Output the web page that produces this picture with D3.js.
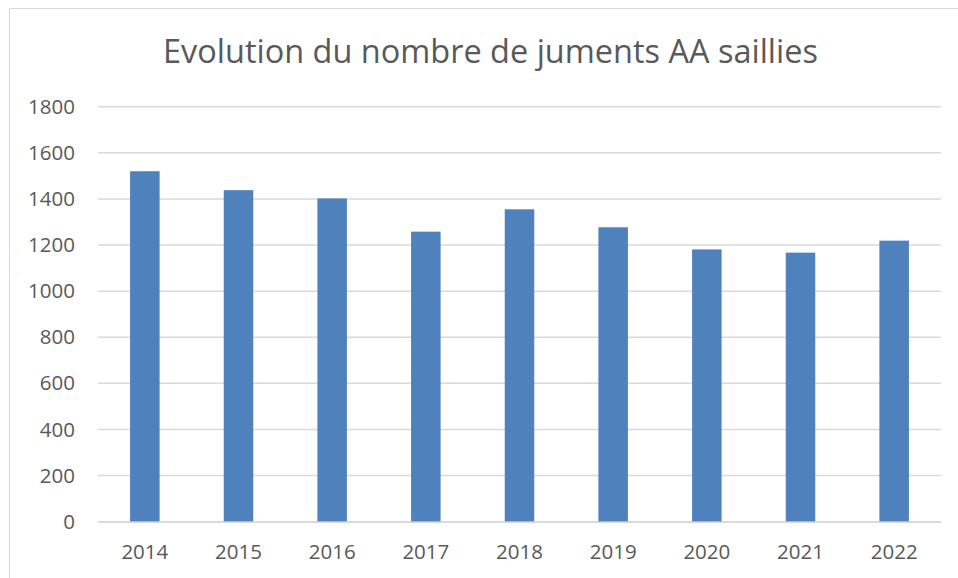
<!DOCTYPE html>
<html>
<head>
<meta charset="utf-8">
<script src="https://cdn.jsdelivr.net/npm/d3@7"></script>
<style>
  html, body { margin: 0; padding: 0; background: #fff; }
  svg { display: block; }
</style>
</head>
<body>
<svg id="chart" width="958" height="578"></svg>
<script>
const title = "Evolution du nombre de juments AA saillies";
const years = ["2014", "2015", "2016", "2017", "2018", "2019", "2020", "2021", "2022"];
const values = [1520, 1438, 1402, 1258, 1355, 1277, 1181, 1167, 1219];
const yTicks = [0, 200, 400, 600, 800, 1000, 1200, 1400, 1600, 1800];

const svg = d3.select("#chart");
const W = 958, H = 578;
const margin = { left: 98, right: 17, top: 106.7, bottom: 56.3 };
const plotW = W - margin.left - margin.right;
const plotH = H - margin.top - margin.bottom;

// chart frame
svg.append("rect")
  .attr("x", 9.5).attr("y", 8.5)
  .attr("width", 960).attr("height", 580)
  .attr("fill", "#fff").attr("stroke", "#d9d9d9").attr("stroke-width", 1);

const g = svg.append("g").attr("transform", `translate(${margin.left},${margin.top})`);

const x = d3.scaleBand().domain(years).range([0, plotW]).padding(0);
const y = d3.scaleLinear().domain([0, 1800]).range([plotH, 0]);

// gridlines
g.append("g").selectAll("line").data(yTicks).join("line")
  .attr("x1", 0).attr("x2", plotW)
  .attr("y1", d => y(d)).attr("y2", d => y(d))
  .attr("stroke", "#d9d9d9").attr("stroke-width", 1.5);

// y axis labels
const yAxis = d3.axisLeft(y).tickValues(yTicks).tickFormat(d3.format("d")).tickSize(0).tickPadding(23);
const ya = g.append("g").call(yAxis);
ya.select(".domain").remove();
ya.selectAll("text")
  .attr("font-family", "'Open Sans', sans-serif")
  .attr("font-size", 20.5).attr("fill", "#595959");

// bars
const barFrac = 0.315;
const bw = x.bandwidth() * barFrac;
g.append("g").selectAll("rect").data(values).join("rect")
  .attr("x", (d, i) => x(years[i]) + (x.bandwidth() - bw) / 2)
  .attr("width", bw)
  .attr("y", d => y(d))
  .attr("height", d => y(0) - y(d))
  .attr("fill", "#4f81bd");

// x axis
const xAxis = d3.axisBottom(x).tickSize(0).tickPadding(23);
const xa = g.append("g").attr("transform", `translate(0,${plotH})`).call(xAxis);
xa.select(".domain").attr("stroke", "#d9d9d9").attr("stroke-width", 1.5);
xa.selectAll("text")
  .attr("font-family", "'Open Sans', sans-serif")
  .attr("font-size", 20.5).attr("fill", "#595959");

// title
const t = svg.append("text")
  .attr("x", 490.5).attr("y", 63)
  .attr("text-anchor", "middle")
  .attr("font-family", "'Open Sans', sans-serif")
  .attr("font-size", 30).attr("fill", "#595959")
  .text(title);
const len = t.node().getComputedTextLength();
t.attr("font-size", 30 * 655 / len);
</script>
</body>
</html>
